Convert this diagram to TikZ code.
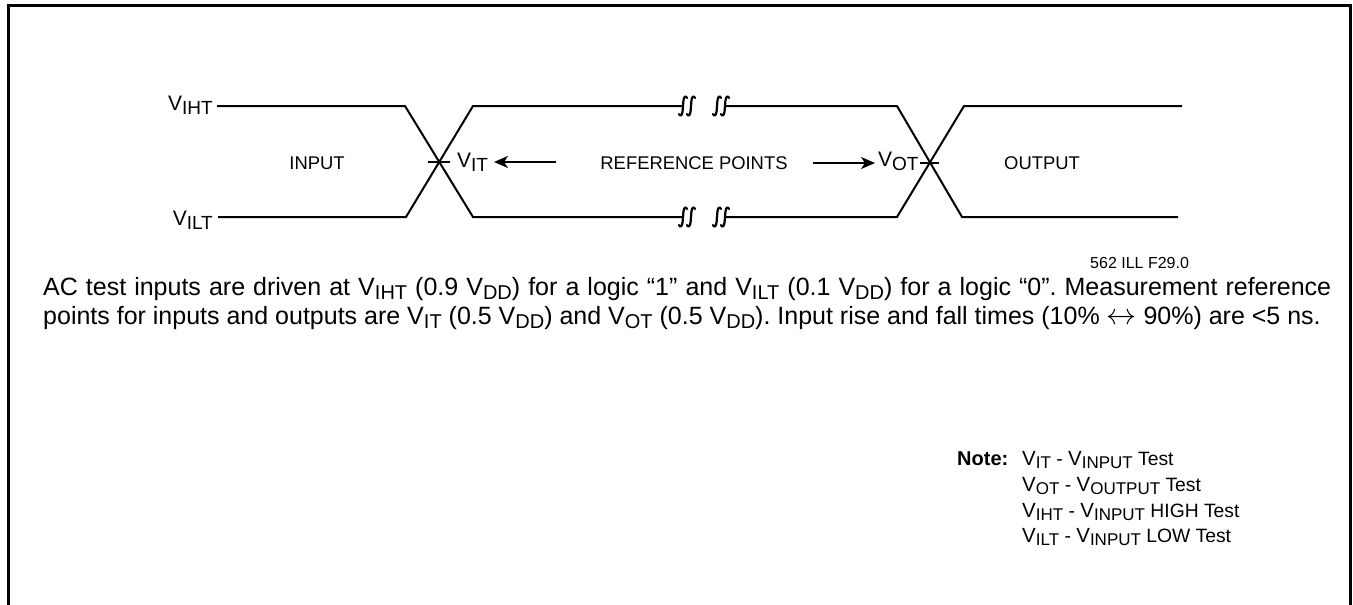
\documentclass[tikz,border=0pt]{standalone}
\usepackage{fontspec}
\setmainfont{Liberation Sans}
\usetikzlibrary{arrows.meta}
\newcommand\lblV[1]{{\fontsize{21}{21}\selectfont V}\raisebox{-4pt}{\fontsize{19}{19}\selectfont #1}}
\newcommand\parV[1]{V\raisebox{-4pt}{\fontsize{20}{20}\selectfont #1}}
\newcommand\noteV[1]{{\fontsize{20.5}{20}\selectfont V}\raisebox{-3pt}{\fontsize{17}{17}\selectfont #1}}
\begin{document}
\begin{tikzpicture}[x=1pt,y=-1pt,
  sig/.style={line width=2pt},
  frame/.style={line width=2.7pt},
  refarrow/.style={line width=2pt,-{Stealth[length=14pt,width=12pt,inset=4pt]}},
  lbl/.style={inner sep=0pt},
  area/.style={inner sep=0pt,font=\fontsize{18.4}{22}\selectfont},
  notetxt/.style={inner sep=0pt,anchor=base west,font=\fontsize{19.3}{22}\selectfont},
  brk/.pic={
    \draw[line width=2.2pt,line cap=round] (-8,8) .. controls (-7,10.5) and (-4.8,10) .. (-4.4,5) -- (-3.6,-5) .. controls (-3.2,-10) and (-1,-10.5) .. (0,-8);
    \draw[line width=2.2pt,line cap=round] (0,8) .. controls (1,10.5) and (3.2,10) .. (3.6,5) -- (4.4,-5) .. controls (4.8,-10) and (7,-10.5) .. (8,-8);
  }]
\useasboundingbox (0,0) rectangle (1353,605);
% frame (open at bottom)
\draw[frame] (8.7,606) -- (8.7,5.3) -- (1350.7,5.3) -- (1350.7,606);

% waveform coordinates
\coordinate (ihS) at (217,106);
\coordinate (ilS) at (218,217);
\coordinate (ihA) at (405,106);
\coordinate (ilA) at (406,217);
\coordinate (hB) at (473,106);
\coordinate (lB) at (473,217);
\coordinate (hBr) at (683,106);
\coordinate (lBr) at (683,217);
\coordinate (hBr2) at (725,106);
\coordinate (lBr2) at (725,217);
\coordinate (hC) at (897,106);
\coordinate (lC) at (897,217);
\coordinate (hD) at (964,106);
\coordinate (lD) at (962,217);
\coordinate (hE) at (1182,106);
\coordinate (lE) at (1178,217);

\draw[sig] (ihS) -- (ihA) -- (lB) -- (lBr);
\draw[sig] (ilS) -- (ilA) -- (hB) -- (hBr);
\draw[sig] (hBr2) -- (hC) -- (lD) -- (lE);
\draw[sig] (lBr2) -- (lC) -- (hD) -- (hE);

% break marks
\pic at (687,106) {brk};
\pic at (721,106) {brk};
\pic at (687,217) {brk};
\pic at (721,217) {brk};

% crossing ticks
\coordinate (t1a) at (428,162);
\coordinate (t1b) at (450,162);
\coordinate (t2a) at (920,163);
\coordinate (t2b) at (939,163);
\draw[sig] (t1a) -- (t1b);
\draw[sig] (t2a) -- (t2b);

% level labels
\node[lbl,anchor=base east] (vih) at (213,110) {\lblV{IHT}};
\node[lbl,anchor=base east] (vil) at (213,225) {\lblV{ILT}};
\node[lbl,anchor=base west] (vit) at (457,167) {\lblV{IT}};
\node[lbl,anchor=base west] (vot) at (878,166) {\lblV{OT}};

% area labels
\node[area] (inp) at (317,163) {INPUT};
\node[area] (refp) at (694,163) {REFERENCE POINTS};
\node[area] (outp) at (1042,163) {OUTPUT};

% reference arrows
\coordinate (la) at (556,162);
\coordinate (lt) at (494,162);
\coordinate (ra) at (813,163);
\coordinate (rt) at (875,163);
\draw[refarrow] (la) -- (lt);
\draw[refarrow] (ra) -- (rt);

% figure id
\node[inner sep=0pt,anchor=base west,font=\fontsize{16}{18}\selectfont] (fid) at (1090,268) {562 ILL F29.0};

% paragraph
\node[inner sep=0pt,anchor=base west,text width=1288pt,align=justify,
      font=\fontsize{25}{29}\selectfont\frenchspacing] (para) at (43,295)
 {AC test inputs are driven at \parV{IHT} (0.9 \parV{DD}) for a logic “1” and \parV{ILT} (0.1 \parV{DD}) for a logic “0”. Measurement reference\linebreak
  points for inputs and outputs are \parV{IT} (0.5 \parV{DD}) and \parV{OT} (0.5 \parV{DD}). Input rise and fall times (10\% \scalebox{1.2}{$\leftrightarrow$} 90\%) are <5 ns.};

% note
\node[inner sep=0pt,anchor=base west,font=\fontsize{20}{22}\selectfont\bfseries] (note) at (957,465) {Note:};
\node[notetxt] (n1) at (1022,465) {\noteV{IT} - \noteV{INPUT} Test};
\node[notetxt] (n2) at (1022,491) {\noteV{OT} - \noteV{OUTPUT} Test};
\node[notetxt] (n3) at (1022,517) {\noteV{IHT} - \noteV{INPUT} HIGH Test};
\node[notetxt] (n4) at (1022,542) {\noteV{ILT} - \noteV{INPUT} LOW Test};
\end{tikzpicture}
\end{document}
